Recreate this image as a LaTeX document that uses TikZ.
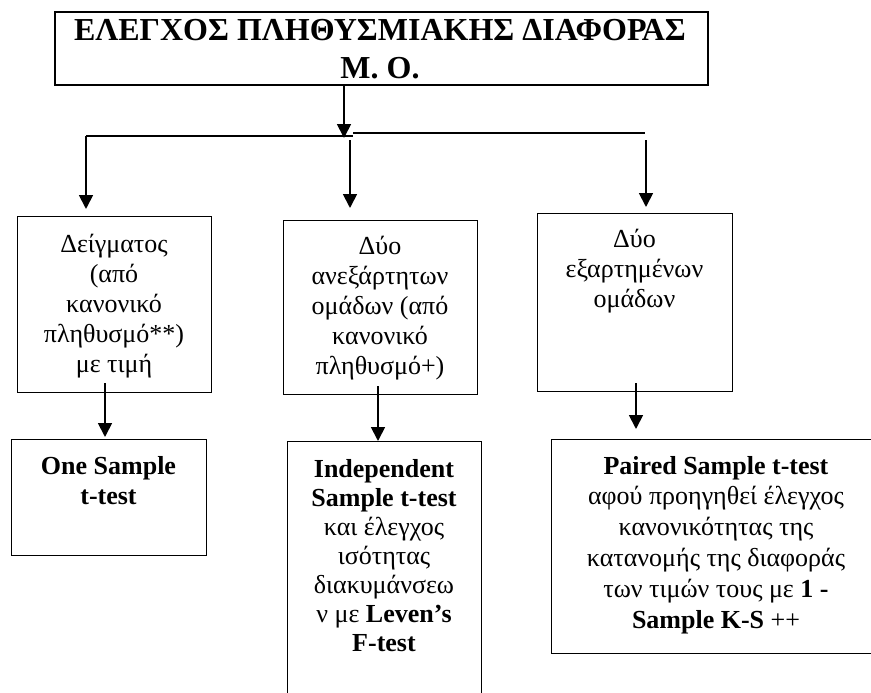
\documentclass[tikz,border=0pt]{standalone}
\usepackage{fontspec}
\setmainfont{Liberation Serif}
\usetikzlibrary{arrows.meta}
\begin{document}
\begin{tikzpicture}[x=1pt,y=-1pt,
  box/.style={draw, line width=1pt, inner sep=0pt, anchor=north west},
  txt/.style={anchor=north, inner sep=0pt, align=center, font=\fontsize{26}{30}\selectfont},
  arr/.style={line width=1.8pt, -{Triangle[width=14pt,length=14pt]}},
  hline/.style={line width=1.3pt}]
\useasboundingbox (0,0) rectangle (871,693);
\clip (0,0) rectangle (871,693);
% boxes
\node[box, line width=2pt, minimum width=653pt, minimum height=73pt] (top) at (54,11) {};
\node[box, minimum width=194pt, minimum height=176pt] (b1) at (17,216) {};
\node[box, minimum width=194pt, minimum height=174pt] (b2) at (283,220) {};
\node[box, minimum width=195pt, minimum height=178pt] (b3) at (537,213) {};
\node[box, minimum width=195pt, minimum height=116pt] (c1) at (11,439) {};
\node[box, minimum width=194pt, minimum height=290pt] (c2) at (287,441) {};
\node[box, minimum width=330pt, minimum height=214pt] (c3) at (551,439) {};
% texts
\node[anchor=north, inner sep=0pt, align=center, font=\bfseries\fontsize{32}{38}\selectfont] (title) at (380,14)
  {\strut ΕΛΕΓΧΟΣ ΠΛΗΘΥΣΜΙΑΚΗΣ ΔΙΑΦΟΡΑΣ\\ Μ. Ο.};
\node[txt] (t1) at (114,231) {\strut Δείγματος\\ (από\\ κανονικό\\ πληθυσμό**)\\ με τιμή};
\node[txt] (t2) at (380,233) {\strut Δύο\\ ανεξάρτητων\\ ομάδων (από\\ κανονικό\\ πληθυσμό+)};
\node[txt] (t3) at (634.5,226) {\strut Δύο\\ εξαρτημένων\\ ομάδων};
\node[txt] (u1) at (108.5,453) {\strut\textbf{One Sample}\\ \textbf{t-test}};
\node[txt, font=\fontsize{26}{29}\selectfont] (u2) at (384,456.7)
  {\strut\textbf{Independent}\\ \textbf{Sample t-test}\\ και έλεγχος\\ ισότητας\\ διακυμάνσεω\\ ν με \textbf{Leven’s}\\ \textbf{F-test}};
\node[txt, font=\fontsize{26}{30.8}\selectfont] (u3) at (716,452.4)
  {\strut\textbf{Paired Sample t-test}\\ αφού προηγηθεί έλεγχος\\ κανονικότητας της\\ κατανομής της διαφοράς\\ των τιμών τους με \textbf{1 -}\\ \textbf{Sample K-S} ++};
% connectors
\coordinate (j) at (344,138);
\coordinate (hl) at (86,136);
\coordinate (hm) at (353,136);
\coordinate (hm2) at (353,133);
\coordinate (hr) at (645,133);
\coordinate (s2) at (350,140);
\coordinate (s3) at (646,140);
\draw[arr] (top.south -| j) -- (j);
\draw[hline] (hl) -- (hm);
\draw[hline] (hm2) -- (hr);
\draw[arr] (hl) -- ([yshift=7pt]b1.north -| hl);
\draw[arr] (s2) -- ([yshift=12pt]b2.north -| s2);
\draw[arr] (s3) -- ([yshift=6pt]b3.north -| s3);
\coordinate (d1) at (105,383);
\coordinate (d2) at (378,386);
\coordinate (d3) at (636,383);
\draw[arr] (d1) -- ([yshift=2pt]c1.north -| d1);
\draw[arr] (d2) -- (c2.north -| d2);
\draw[arr] (d3) -- ([yshift=10pt]c3.north -| d3);
\end{tikzpicture}
\end{document}
